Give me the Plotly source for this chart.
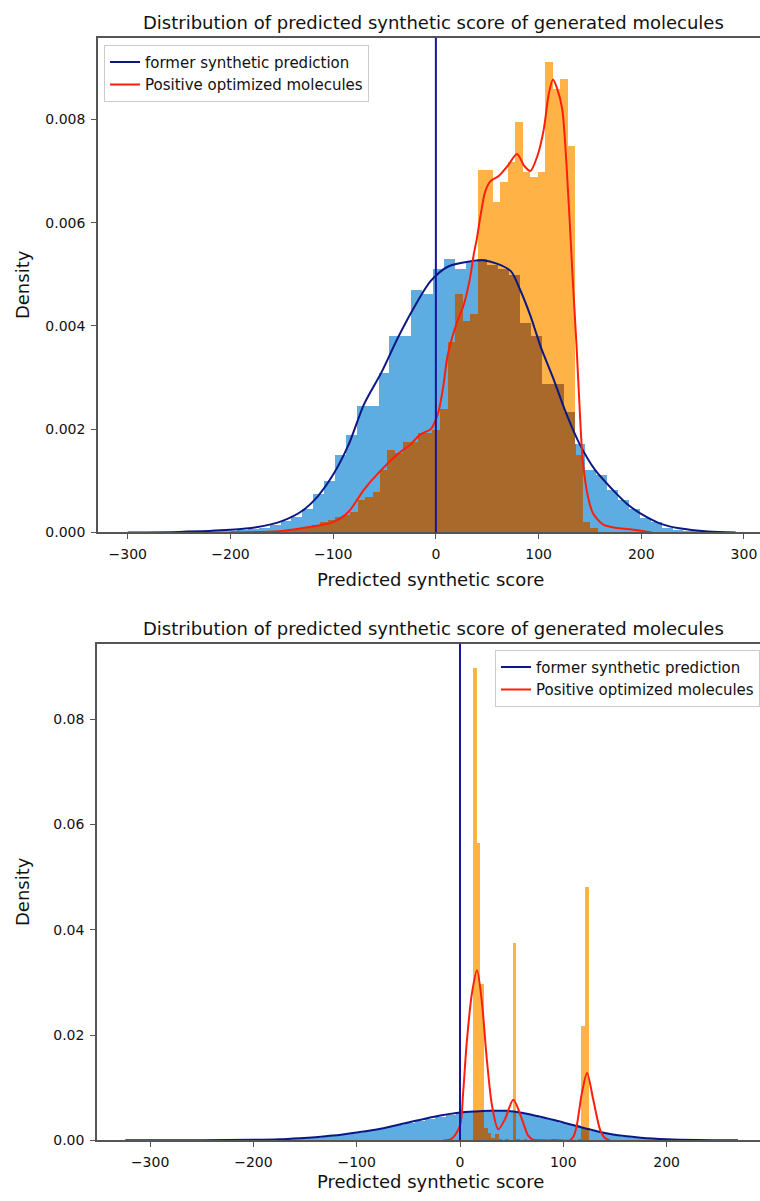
import numpy as np
import plotly.graph_objects as go

TITLE = "Distribution of predicted synthetic score of generated molecules"
XLABEL = "Predicted synthetic score"
YLABEL = "Density"
NAME_FORMER = "former synthetic prediction"
NAME_POS = "Positive optimized molecules"

# ---------------- Top panel ----------------
top_blue_start = -299.6
top_blue_width = 10.6
top_blue_heights = [
    0, 0, 0, 0.00001, 0.00001, 0.00001, 0.00002, 0.00002, 0.00003, 0.00004,
    0.00006, 0.00008, 0.0001, 0.00015, 0.00022, 0.0003, 0.00045, 0.00075, 0.001, 0.0015,
    0.0019, 0.00246, 0.00246, 0.0031, 0.0038, 0.0038, 0.0047, 0.00463, 0.0051, 0.0053,
    0.0051, 0.00525, 0.0053, 0.00518, 0.0051, 0.005, 0.00406, 0.0038, 0.00287, 0.00287,
    0.00233, 0.00172, 0.00121, 0.00112, 0.00083, 0.00063, 0.00045, 0.00029, 0.0002, 0.0001,
    0.00005, 0.00003, 0.00002, 0.00001, 0, 0,
]
top_orange_start = -163.8
top_orange_width = 7.3
top_orange_heights = [
    0.00002, 0.00003, 0.00005, 0.00006, 0.00008, 0.0001, 0.00015, 0.0002, 0.00025, 0.0003,
    0.00035, 0.0004, 0.00063, 0.0007, 0.00078, 0.00121, 0.0016, 0.00154, 0.00175, 0.00175,
    0.00194, 0.00194, 0.00198, 0.0024, 0.0037, 0.00463, 0.0041, 0.00423, 0.00702, 0.00702,
    0.0064, 0.0068, 0.00717, 0.00796, 0.00698, 0.00688, 0.00698, 0.00912, 0.0086, 0.00879,
    0.00748, 0.0015, 0.0002, 0.0001,
]
top_kde_former_x = [-300, -250, -200, -175, -150, -130, -115, -100, -85, -70, -53, -37, -20, -5,
                    12, 34, 46, 60, 73, 82, 92, 102, 114, 127, 140, 155, 172, 188, 205, 220, 237, 265, 292]
top_kde_former_y = [0, 0.00001, 0.00005, 0.0001, 0.00022, 0.00042, 0.0007, 0.00112, 0.0017, 0.00248,
                    0.0031, 0.00377, 0.0044, 0.00487, 0.00515, 0.00525, 0.00527, 0.0052, 0.00506, 0.0047,
                    0.0042, 0.0036, 0.003, 0.0023, 0.00171, 0.00121, 0.00083, 0.00052, 0.0003, 0.00016,
                    0.00008, 0.00002, 0]
top_kde_pos_x = [-200, -170, -150, -125, -100, -85, -70, -57, -37, -25, -15, -5, 2, 7, 11.6, 21, 27,
                 33, 37, 40, 44, 48, 53, 61, 70, 79, 86, 92, 99, 105, 110, 114, 118, 123, 129, 133,
                 137, 140, 143, 148, 153, 163, 175, 189, 210]
top_kde_pos_y = [0, 0.00001, 0.00003, 0.0001, 0.0002, 0.0004, 0.00083, 0.00113, 0.00152, 0.0017,
                 0.0019, 0.002, 0.0023, 0.0028, 0.00344, 0.0041, 0.0044, 0.0049, 0.0054, 0.0057,
                 0.0062, 0.0066, 0.0068, 0.0069, 0.0071, 0.00733, 0.0071, 0.007, 0.0073, 0.0078,
                 0.0085, 0.00877, 0.0086, 0.0082, 0.0065, 0.005, 0.0036, 0.0024, 0.0014, 0.0007,
                 0.00037, 0.00015, 0.00009, 0.00006, 0]
top_yticks = [0.000, 0.002, 0.004, 0.006, 0.008]
top_xticks = [-300, -200, -100, 0, 100, 200, 300]

# ---------------- Bottom panel ----------------
bot_blue_start = -324
bot_blue_width = 10
bot_blue_heights = [
    0.00001, 0.00001, 0.00001, 0.00001, 0.00002, 0.00002, 0.00003, 0.00003, 0.00004, 0.00005,
    0.00006, 0.00008, 0.0001, 0.00013, 0.00018, 0.00025, 0.00033, 0.00045, 0.0006, 0.0008,
    0.001, 0.0012, 0.0015, 0.0018, 0.0022, 0.0026, 0.003, 0.0034, 0.0038, 0.0042,
    0.0045, 0.0049, 0.0052, 0.0054, 0.0055, 0.0056, 0.0056, 0.0055, 0.0052, 0.0048,
    0.0044, 0.0039, 0.0034, 0.0029, 0.0024, 0.0019, 0.0014, 0.001, 0.0007, 0.0005,
    0.0003, 0.0002, 0.00015, 0.0001, 0.00006, 0.00004, 0.00002, 0.00001, 0.00001, 0,
]
bot_orange_start = 12.5
bot_orange_width = 3.5
bot_orange_heights = [
    0.0898, 0.0566, 0.0298, 0.0025, 0.0015, 0.0005, 0.0012, 0.0004, 0, 0.0004,
    0, 0.0375, 0.0004, 0, 0.0003, 0, 0, 0.0003, 0, 0,
    0, 0, 0.0003, 0, 0, 0, 0, 0, 0, 0.0004,
    0.0217, 0.0482,
]
bot_kde_former_x = [-324, -280, -250, -200, -175, -155, -140, -123, -100, -77, -50, -25, 0, 15, 29,
                    45, 58, 80, 100, 125, 148, 175, 200, 230, 269]
bot_kde_former_y = [0, 0.00002, 0.00003, 0.0001, 0.0002, 0.0004, 0.0006, 0.0009, 0.0015, 0.0022,
                    0.0034, 0.0045, 0.0053, 0.0055, 0.0056, 0.0056, 0.0053, 0.0044, 0.0034, 0.0021,
                    0.0011, 0.0005, 0.0002, 0.00005, 0]
bot_kde_pos_x = [-16, -8, 0, 3, 6.5, 11.6, 16.5, 21, 26, 31, 37, 43.5, 51.6, 60, 66, 71, 80, 95,
                 106.5, 110, 113, 118, 123, 129, 135.5, 140, 145]
bot_kde_pos_y = [0, 0.0003, 0.0028, 0.009, 0.0185, 0.028, 0.0323, 0.0266, 0.0153, 0.0066, 0.0021,
                 0.004, 0.0077, 0.004, 0.0009, 0.0001, 0, 0, 0, 0.0008, 0.0028, 0.009, 0.0128,
                 0.0077, 0.0021, 0.0005, 0]
bot_yticks = [0.00, 0.02, 0.04, 0.06, 0.08]
bot_xticks = [-300, -200, -100, 0, 100, 200]

# ---------------- Styles ----------------
C_BLUE = "#5DADE2"
C_ORANGE = "#FFB347"
C_BROWN = "#A8692A"
C_NAVY = "#0B1785"
C_RED = "#FF1E0A"
C_VLINE = "#16169A"
FONT = "DejaVu Sans"
W, H = 760, 1201


def bins(start, width, heights):
    edges = start + width * np.arange(len(heights) + 1)
    return (edges[:-1] + edges[1:]) / 2, edges


def overlap(s1, w1, h1, s2, w2, h2):
    _, e1 = bins(s1, w1, h1)
    _, e2 = bins(s2, w2, h2)
    edges = np.unique(np.round(np.concatenate([e1, e2]), 6))
    mids = (edges[:-1] + edges[1:]) / 2
    i1 = np.searchsorted(e1, mids) - 1
    i2 = np.searchsorted(e2, mids) - 1
    out = []
    for a, b in zip(i1, i2):
        va = h1[a] if 0 <= a < len(h1) else 0
        vb = h2[b] if 0 <= b < len(h2) else 0
        out.append(min(va, vb))
    return mids, np.diff(edges), out


fig = go.Figure()


def add_panel(xa, ya, bstart, bw, bh, ostart, ow, oh, kfx, kfy, kpx, kpy, legend):
    c, _ = bins(bstart, bw, bh)
    fig.add_trace(go.Bar(x=c, y=bh, width=bw, marker=dict(color=C_BLUE, line=dict(width=0)),
                         xaxis=xa, yaxis=ya, showlegend=False))
    c, _ = bins(ostart, ow, oh)
    fig.add_trace(go.Bar(x=c, y=oh, width=ow, marker=dict(color=C_ORANGE, line=dict(width=0)),
                         xaxis=xa, yaxis=ya, showlegend=False))
    m, wd, hh = overlap(bstart, bw, bh, ostart, ow, oh)
    fig.add_trace(go.Bar(x=m, y=hh, width=wd, marker=dict(color=C_BROWN, line=dict(width=0)),
                         xaxis=xa, yaxis=ya, showlegend=False))
    fig.add_trace(go.Scatter(x=kfx, y=kfy, mode="lines", name=NAME_FORMER,
                             line=dict(color=C_NAVY, width=2, shape="spline", smoothing=0.8),
                             xaxis=xa, yaxis=ya, legend=legend))
    fig.add_trace(go.Scatter(x=kpx, y=kpy, mode="lines", name=NAME_POS,
                             line=dict(color=C_RED, width=2, shape="spline", smoothing=0.8),
                             xaxis=xa, yaxis=ya, legend=legend))


add_panel("x", "y", top_blue_start, top_blue_width, top_blue_heights,
          top_orange_start, top_orange_width, top_orange_heights,
          top_kde_former_x, top_kde_former_y, top_kde_pos_x, top_kde_pos_y, "legend")
add_panel("x2", "y2", bot_blue_start, bot_blue_width, bot_blue_heights,
          bot_orange_start, bot_orange_width, bot_orange_heights,
          bot_kde_former_x, bot_kde_former_y, bot_kde_pos_x, bot_kde_pos_y, "legend2")

axis_common = dict(showline=True, linecolor="#555555", linewidth=1.5, ticks="outside", ticklen=5,
                   tickcolor="#555555", tickwidth=1.2, showgrid=False, zeroline=False,
                   ticklabelstandoff=3,
                   tickfont=dict(family=FONT, size=14, color="#111111"))

legend_common = dict(bgcolor="rgba(255,255,255,0.85)", bordercolor="#CCCCCC", borderwidth=1,
                     font=dict(family=FONT, size=15, color="#111111"), itemwidth=30,
                     tracegroupgap=2)

fig.update_layout(
    width=W, height=H, margin=dict(l=0, r=0, t=0, b=0),
    paper_bgcolor="white", plot_bgcolor="white", barmode="overlay", bargap=0,
    xaxis=dict(domain=[98 / W, 1], range=[-329.0, 315.6], anchor="y", mirror=True,
               tickvals=top_xticks, **axis_common),
    yaxis=dict(domain=[1 - 536 / H, 1 - 38 / H], range=[0, 0.00958], anchor="x",
               tickvals=top_yticks, tickformat=".3f", **axis_common),
    xaxis2=dict(domain=[97 / W, 1], range=[-351.4, 290.4], anchor="y2", mirror=True,
                tickvals=bot_xticks, **axis_common),
    yaxis2=dict(domain=[1 - 1148 / H, 1 - 648 / H], range=[0, 0.0943], anchor="x2",
                tickvals=bot_yticks, tickformat=".2f", **axis_common),
    legend=dict(x=104 / W, y=1 - 45 / H, xanchor="left", yanchor="top", **legend_common),
    legend2=dict(x=1, y=1 - 654 / H, xanchor="right", yanchor="top", **legend_common),
    shapes=[
        dict(type="line", xref="x", yref="y domain", x0=0, x1=0, y0=0, y1=1,
             line=dict(color=C_VLINE, width=2)),
        dict(type="line", xref="x2", yref="y2 domain", x0=0, x1=0, y0=0, y1=1,
             line=dict(color=C_VLINE, width=2)),
    ],
)

ann_font = dict(family=FONT, size=18, color="#111111")
anns = [
    (TITLE, 433, 23, 0),
    (TITLE, 433, 633, 0),
    (XLABEL, 430, 583, 0),
    (XLABEL, 430, 1189, 0),
    (YLABEL, 22, 287, -90),
    (YLABEL, 22, 898, -90),
]
for text, px, py, ang in anns:
    fig.add_annotation(text=text, x=px / W, y=1 - py / H, xref="paper", yref="paper",
                       xanchor="center", yanchor="middle", showarrow=False, textangle=ang,
                       font=ann_font)

fig.write_html(
    "out.html",
    config={"displayModeBar": False},
    post_script=(
        "document.body.style.margin='0';"
        "document.body.style.overflow='hidden';"
        "document.documentElement.style.overflow='hidden';"
    ),
)
